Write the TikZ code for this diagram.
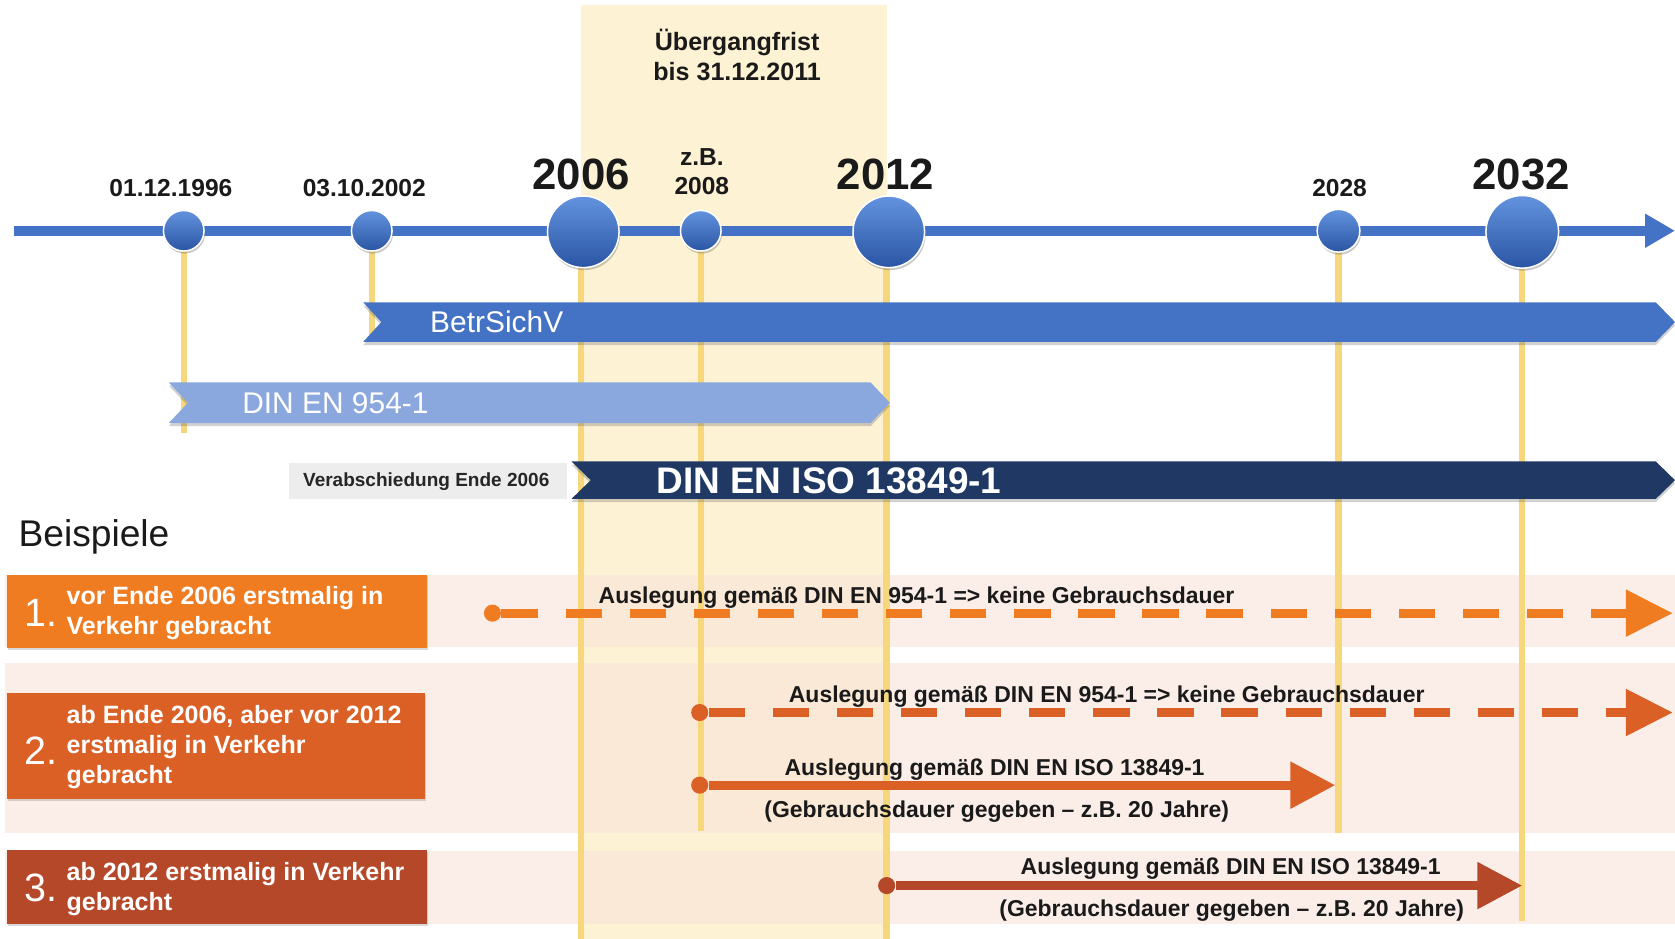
\documentclass[tikz,border=0pt]{standalone}
\usepackage{fontspec}
\setmainfont{Liberation Sans}
\usetikzlibrary{arrows.meta,shadows}

\definecolor{tlblue}{HTML}{4472C4}
\definecolor{dotlight}{HTML}{6393DE}
\definecolor{dotdark}{HTML}{2A55A4}
\definecolor{lightbar}{HTML}{8AA8DE}
\definecolor{navybar}{HTML}{203864}
\definecolor{bandyellow}{HTML}{FDF2D3}
\definecolor{guidecol}{HTML}{F6D77C}
\definecolor{rowbg}{HTML}{F9E3D9}
\definecolor{caseA}{HTML}{F07C22}
\definecolor{caseB}{HTML}{DA6026}
\definecolor{caseC}{HTML}{B54828}
\definecolor{infogrey}{HTML}{EDEDED}
\definecolor{ink}{HTML}{1A1A1A}

\tikzset{
  guide/.style={draw=guidecol, line width=3pt},
  tline/.style={draw=tlblue, line width=4.5pt, -{Triangle[length=14pt,width=15pt]}},
  dotbase/.style={circle, inner sep=0pt, top color=dotlight, bottom color=dotdark,
    draw=white, line width=0.7pt,
    drop shadow={shadow xshift=0.5pt, shadow yshift=-1.2pt, opacity=0.35, fill=black!60}},
  smalldot/.style={dotbase, minimum size=19pt},
  bigdot/.style={dotbase, minimum size=33.5pt},
  barshadow/.style={drop shadow={shadow xshift=0pt, shadow yshift=-1.5pt, opacity=0.3, fill=black!60}},
  datelbl/.style={text=ink, font=\bfseries\fontsize{11.5}{13.5}\selectfont, anchor=base, inner sep=0pt},
  yearlbl/.style={text=ink, font=\bfseries\fontsize{20.5}{24}\selectfont, anchor=base, inner sep=0pt},
  barlbl/.style={text=white, font=\fontsize{14}{16}\selectfont, anchor=base, inner sep=0pt},
  casebox/.style={rectangle, inner sep=0pt,
    drop shadow={shadow xshift=0.4pt, shadow yshift=-0.8pt, opacity=0.25, fill=black!60}},
  casenum/.style={text=white, font=\fontsize{18.5}{20}\selectfont, anchor=base west, inner sep=0pt},
  casetxt/.style={text=white, font=\bfseries\fontsize{11.7}{14}\selectfont, align=left, anchor=west, inner sep=0pt},
  design/.style={text=ink, font=\bfseries\fontsize{10.75}{13}\selectfont, anchor=base, inner sep=0pt},
  startdot/.style={circle, inner sep=0pt, minimum size=8pt},
  dasharrow/.style={line width=4.2pt, dash pattern=on 17pt off 13pt, -{Triangle[length=22pt,width=21pt]}},
  solidarrow/.style={line width=4.2pt, -{Triangle[length=21pt,width=21pt]}},
}

\begin{document}
\begin{tikzpicture}[x=0.5pt,y=-0.5pt]
\useasboundingbox (0,0) rectangle (1568,879);

% transition period band
\fill[bandyellow] (544,5) rectangle (830,879);

% row backgrounds of the examples
\fill[rowbg, fill opacity=0.6] (5,538) rectangle (1568,606);
\fill[rowbg, fill opacity=0.6] (5,621) rectangle (1568,780);
\fill[rowbg, fill opacity=0.6] (5,797) rectangle (1568,865);

% points on the time axis
\coordinate (p1996) at (172,216);
\coordinate (p2002) at (348,216);
\coordinate (p2006) at (546,217);
\coordinate (p2008) at (656,216);
\coordinate (p2012) at (832,217);
\coordinate (p2028) at (1253,216);
\coordinate (p2032) at (1425,217);

% lower ends of the guide lines
\coordinate (g1996) at (172,405);
\coordinate (g2002) at (348,318);
\coordinate (g2006) at (544,879);
\coordinate (g2008) at (656,778);
\coordinate (g2012) at (830,879);
\coordinate (g2028) at (1253,780);
\coordinate (g2032) at (1425,862);

\draw[guide] (p1996) -- (g1996);
\draw[guide] (p2002) -- (g2002);
\draw[guide] (544,217) -- (g2006);
\draw[guide] (p2008) -- (g2008);
\draw[guide] (830,217) -- (g2012);
\draw[guide] (p2028) -- (g2028);
\draw[guide] (p2032) -- (g2032);

% time axis
\coordinate (tl0) at (13,216);
\coordinate (tl1) at (1568,216);
\draw[tline] (tl0) -- (tl1);

\node[smalldot] (d1996) at (p1996) {};
\node[smalldot] (d2002) at (p2002) {};
\node[bigdot]   (d2006) at (p2006) {};
\node[smalldot] (d2008) at (p2008) {};
\node[bigdot]   (d2012) at (p2012) {};
\node[smalldot, minimum size=20pt] (d2028) at (p2028) {};
\node[bigdot, minimum size=34pt]   (d2032) at (p2032) {};

% labels of the time axis
\node[datelbl] (l1996) at (160,184) {01.12.1996};
\node[datelbl] (l2002) at (341,184) {03.10.2002};
\node[yearlbl] (l2006) at (544,177) {2006};
\node[datelbl, align=center, anchor=center, font=\bfseries\fontsize{11.5}{13.5}\selectfont] (l2008) at (657,161) {z.B.\\2008};
\node[yearlbl] (l2012) at (829,177) {2012};
\node[datelbl] (l2028) at (1254,184) {2028};
\node[yearlbl] (l2032) at (1424,177) {2032};
\node[datelbl, align=center, anchor=center, font=\bfseries\fontsize{11.75}{14}\selectfont] (frist) at (690,51) {Übergangfrist\\bis 31.12.2011};

% validity bars
\fill[tlblue, barshadow] (340,283) -- (1550,283) -- (1568,301.5) -- (1550,320) -- (340,320) -- (357,301.5) -- cycle;
\node[barlbl] (betr) at (465,311) {BetrSichV};

\fill[lightbar, barshadow] (158,358) -- (815,358) -- (833,377) -- (815,396) -- (158,396) -- (176,377) -- cycle;
\node[barlbl] (en954) at (314,387) {DIN EN 954-1};

\fill[navybar, barshadow] (535,432) -- (1550,432) -- (1568,449.5) -- (1550,467) -- (535,467) -- (553,449.5) -- cycle;
\node[barlbl, font=\bfseries\fontsize{17.3}{20}\selectfont] (iso) at (776,462) {DIN EN ISO 13849-1};

\fill[infogrey] (271,433) rectangle (531,467);
\node[design, font=\bfseries\fontsize{8.9}{11}\selectfont, text=black!85] (verab) at (399,455) {Verabschiedung Ende 2006};

\node[text=ink, font=\fontsize{17.4}{20}\selectfont, anchor=base west, inner sep=0pt] (beisp) at (17,512) {Beispiele};

% example 1
\node[casebox, fill=caseA, minimum width=196.5pt, minimum height=34.5pt] (c1) at (203.5,572.5) {};
\node[casenum] (n1) at (23,586) {1.};
\node[casetxt] (t1) at (62,574) {vor Ende 2006 erstmalig in\\Verkehr gebracht};

% example 2
\node[casebox, fill=caseB, minimum width=195.5pt, minimum height=49.5pt] (c2) at (202.5,698.5) {};
\node[casenum] (n2) at (23,716) {2.};
\node[casetxt] (t2) at (62,699) {ab Ende 2006, aber vor 2012\\erstmalig in Verkehr\\gebracht};

% example 3
\node[casebox, fill=caseC, minimum width=196.5pt, minimum height=34.5pt] (c3) at (203.5,830.5) {};
\node[casenum] (n3) at (23,844) {3.};
\node[casetxt] (t3) at (62,832) {ab 2012 erstmalig in Verkehr\\gebracht};

% design arrows
\node[startdot, fill=caseA] (s1) at (461,574) {};
\coordinate (e1) at (1566,574);
\draw[dasharrow, draw=caseA] (s1) -- (e1);
\node[design] (a1) at (858,565) {Auslegung gemäß DIN EN 954-1 => keine Gebrauchsdauer};

\node[startdot, fill=caseB] (s2a) at (655,667) {};
\coordinate (e2a) at (1566,667);
\draw[dasharrow, draw=caseB] (s2a) -- (e2a);
\node[design] (a2a) at (1036,658) {Auslegung gemäß DIN EN 954-1 => keine Gebrauchsdauer};

\node[startdot, fill=caseB] (s2b) at (655,735) {};
\coordinate (e2b) at (1250,735);
\draw[solidarrow, draw=caseB] (s2b) -- (e2b);
\node[design] (a2b) at (931,726) {Auslegung gemäß DIN EN ISO 13849-1};
\node[design] (b2b) at (933,765) {(Gebrauchsdauer gegeben – z.B. 20 Jahre)};

\node[startdot, fill=caseC] (s3) at (830,829) {};
\coordinate (e3) at (1425,829);
\draw[solidarrow, draw=caseC] (s3) -- (e3);
\node[design] (a3) at (1152,819) {Auslegung gemäß DIN EN ISO 13849-1};
\node[design] (b3) at (1153,858) {(Gebrauchsdauer gegeben – z.B. 20 Jahre)};
\end{tikzpicture}
\end{document}
